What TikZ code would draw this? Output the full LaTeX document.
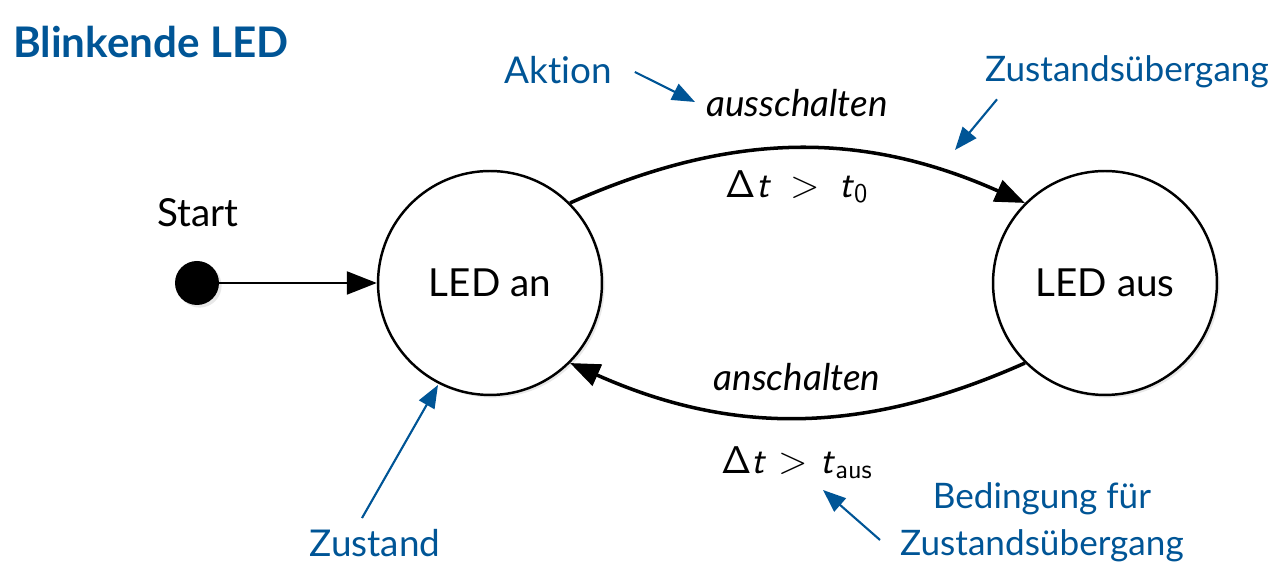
\documentclass[tikz,border=0pt]{standalone}
\usepackage{fontspec}
\setmainfont{Lato}[Ligatures=NoCommon]
\usetikzlibrary{arrows.meta,shadows}

\definecolor{annoblue}{RGB}{0,85,150}

\begin{document}
\begin{tikzpicture}[
  x=0.02cm,y=0.02cm,
  >={Triangle[length=17pt,width=13pt]},
  state/.style={circle,draw=black,line width=1.4pt,minimum size=4.48cm,fill=white,
    drop shadow={opacity=.18,shadow xshift=1.5pt,shadow yshift=-1.5pt},
    font=\fontsize{22}{26}\selectfont},
  trans/.style={->,line width=2pt},
  act/.style={font=\fontsize{21}{25}\selectfont\itshape},
  cond/.style={font=\fontsize{22}{26}\selectfont\sffamily},
  anno/.style={text=annoblue,font=\fontsize{20}{26.6}\selectfont,align=center},
  annoarrow/.style={-{Triangle[length=13pt,width=10pt]},line width=1.2pt,draw=annoblue}
]
  \useasboundingbox (0,0) rectangle (1286,580);

  \node[anchor=west,text=annoblue,font=\fontsize{24}{28}\selectfont\bfseries] (title) at (7,538) {Blinkende LED};

  % start and states
  \node[circle,fill=black,minimum size=0.88cm,inner sep=0pt,
    drop shadow={opacity=.18,shadow xshift=1.5pt,shadow yshift=-1.5pt}] (start) at (197,297) {};
  \node[font=\fontsize{22}{26}\selectfont] (startlbl) at (198,367) {Start};
  \node[state] (ledan) at (490,297) {LED an};
  \node[state] (ledaus) at (1105,297) {LED aus};

  \draw[->,line width=1.4pt] (start) -- (ledan);
  \draw[trans] (ledan.45) to[bend left=24] (ledaus.135);
  \draw[trans] (ledaus.-135) to[bend left=24] (ledan.-45);

  % transition labels
  \node[act] (aus) at (797,477) {ausschalten};
  \node[cond] (condaus) at (797,393) {Δ\textit{t}\enspace>\enspace\textit{t}\textsubscript{0}};
  \node[act] (an) at (797,203) {anschalten};
  \node[cond] (condan) at (797,117) {Δ\textit{t} > \textit{t}\textsubscript{aus}};

  % annotations
  \node[anno,font=\fontsize{21}{25}\selectfont] (aktion) at (558,510) {Aktion};
  \node[anno] (uebergang) at (1127,508) {Zustandsübergang};
  \node[anno,font=\fontsize{21}{25}\selectfont] (zustand) at (375,37) {Zustand};
  \node[anno] (bedingung) at (1042,58) {Bedingung für\\Zustandsübergang};

  \coordinate (aktiontip) at (695,478);
  \coordinate (uebergangtip) at (955,430);
  \coordinate (zustandtip) at (438,195);
  \coordinate (bedingungtip) at (823,90);

  \draw[annoarrow] ([shift={(17,-2)}]aktion.east) -- (aktiontip);
  \draw[annoarrow] ([shift={(18,-5)}]uebergang.south west) -- (uebergangtip);
  \draw[annoarrow] ([shift={(-13,5)}]zustand.north) -- (zustandtip);
  \draw[annoarrow] ([shift={(-14,-18)}]bedingung.west) -- (bedingungtip);
\end{tikzpicture}
\end{document}
